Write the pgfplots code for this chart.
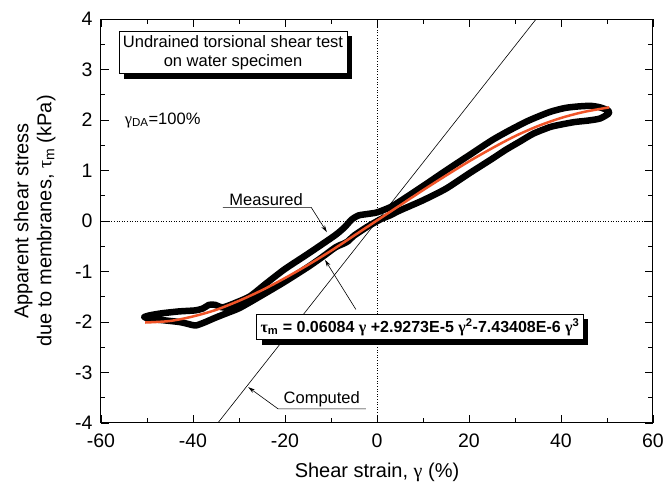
\documentclass[border=0pt]{standalone}
\usepackage{fontspec}
\setmainfont{Liberation Sans}
\newfontfamily\grk{Liberation Serif}
\usepackage{pgfplots}
\pgfplotsset{compat=1.18}
\usetikzlibrary{shadows,arrows.meta}
\definecolor{fitred}{RGB}{240,84,40}

\begin{document}
\begin{tikzpicture}
\path[use as bounding box] (-101pt,-67pt) rectangle (564pt,423pt);
\begin{axis}[
    at={(0,0)}, anchor=south west,
    scale only axis, width=552pt, height=404pt,
    xmin=-60, xmax=60, ymin=-4, ymax=4,
    xtick={-60,-40,...,60}, ytick={-4,-3,...,4},
    minor x tick num=1, minor y tick num=1,
    tick align=inside, tick pos=both,
    major tick length=8pt, minor tick length=4.5pt,
    axis line style={line width=1pt}, every tick/.style={black, line width=0.8pt},
    /pgf/number format/assume math mode=true,
    tick label style={font=\fontsize{19.5}{19.5}\selectfont},
    xticklabel style={yshift=-7pt},
    yticklabel style={xshift=-5pt},
    xlabel={Shear strain, {\grk γ} (\%)},
    xlabel style={font=\fontsize{20}{20}\selectfont, at={(axis description cs:0.5,-0.09)}, anchor=north},
    ylabel={Apparent shear stress\\due to membranes, {\grk τ}\textsubscript{m} (kPa)},
    ylabel style={font=\fontsize{20}{23}\selectfont, align=center, at={(axis description cs:-0.076,0.5)}, anchor=south},
]
% zero lines
\addplot[black, dotted, line width=0.6pt] coordinates {(-60,0) (60,0)};
\addplot[black, dotted, line width=0.6pt] coordinates {(0,-4) (0,4)};
% computed
\addplot[black, line width=0.6pt] coordinates {(-34.6,-4) (34.6,4)};
% measured loop
\addplot[black, line width=6.5pt, line join=round, line cap=round, smooth, tension=0.4] coordinates {
(-50.6,-1.90) (-49.5,-1.87) (-47,-1.83) (-43,-1.79) (-39.5,-1.77) (-37.8,-1.73) (-36.5,-1.66)
(-35.2,-1.66) (-33.5,-1.71) (-30.5,-1.61) (-27.6,-1.49) (-24,-1.23) (-20,-0.95) (-15,-0.65)
(-10,-0.34) (-8.5,-0.24) (-7,-0.12) (-5.5,0.03) (-4,0.11) (-2,0.14) (0,0.17) (2.8,0.27)
(5,0.39) (10,0.69) (15,1.00) (20,1.30) (25,1.60) (28.9,1.80) (33,1.99) (37.6,2.16) (41,2.24)
(44,2.27) (46.5,2.28) (48.5,2.25) (50.2,2.19)
(50.4,2.13) (48.5,2.03) (46,1.99) (43,1.96) (40,1.91) (37.6,1.86) (34,1.73) (31,1.57)
(28,1.41) (25,1.23) (20,0.94) (15,0.64) (10,0.41) (5,0.21) (2.8,0.11) (0.7,0.03) (-2.2,-0.12)
(-5,-0.29) (-6.3,-0.40) (-7.3,-0.45) (-9,-0.52) (-12,-0.72) (-15,-0.91) (-20,-1.20)
(-25,-1.47) (-29.8,-1.72) (-32.5,-1.82) (-35,-1.91) (-37.8,-2.02) (-39.5,-2.07) (-41,-2.04)
(-43,-2.00) (-47,-1.96) (-49.5,-1.94) (-50.6,-1.90)};
% cubic fit
\addplot[fitred, line width=2.5pt, smooth] coordinates {
(-50.4,-2.01) (-45,-1.98) (-40,-1.89) (-35,-1.76) (-30,-1.58) (-25,-1.37) (-20,-1.13)
(-15,-0.87) (-10,-0.59) (-5,-0.29) (0,0.01) (5,0.31) (10,0.61) (15,0.90) (20,1.18)
(25,1.44) (30,1.68) (35,1.88) (40,2.04) (45,2.16) (50.5,2.25)};

\node[draw, fill=white, line width=0.8pt, align=center, inner sep=4pt,
      font=\fontsize{16.5}{19}\selectfont,
      drop shadow={shadow xshift=5pt, shadow yshift=-5pt, fill=black, opacity=1}]
      at (axis cs:-31.3,3.34) {Undrained torsional shear test\\on water specimen};
\node[anchor=west, font=\fontsize{16.5}{16.5}\selectfont] at (axis cs:-55.6,2.0)
      {{\grk γ}\textsubscript{DA}=100\%};
\node[draw, fill=white, line width=0.8pt, inner sep=4pt,
      font=\bfseries\fontsize{16}{16}\selectfont,
      drop shadow={shadow xshift=5pt, shadow yshift=-5pt, fill=black, opacity=1}]
      at (axis cs:9.35,-2.10)
      {{\grk τ}\textsubscript{m} = 0.06084 {\grk γ} +2.9273E-5 {\grk γ}\textsuperscript{2}-7.43408E-6 {\grk γ}\textsuperscript{3}};

\node[anchor=south, inner sep=1.5pt, font=\fontsize{16.5}{16.5}\selectfont] at (axis cs:-24.1,0.27) {Measured};
\draw[line width=0.6pt, -{Stealth[length=7pt,width=4pt]}] (axis cs:-33.5,0.27) -- (axis cs:-14.3,0.27) -- (axis cs:-10.9,-0.22);
\node[anchor=south, inner sep=1.5pt, font=\fontsize{16.5}{16.5}\selectfont] at (axis cs:-12.0,-3.72) {Computed};
\draw[line width=0.6pt, -{Stealth[length=7pt,width=4pt]}] (axis cs:-2.4,-3.72) -- (axis cs:-21.5,-3.72) -- (axis cs:-28,-3.29);
\draw[line width=0.6pt, -{Stealth[length=7pt,width=4pt]}] (axis cs:-4.6,-1.75) -- (axis cs:-11.3,-0.77);
\end{axis}
\end{tikzpicture}
\end{document}
